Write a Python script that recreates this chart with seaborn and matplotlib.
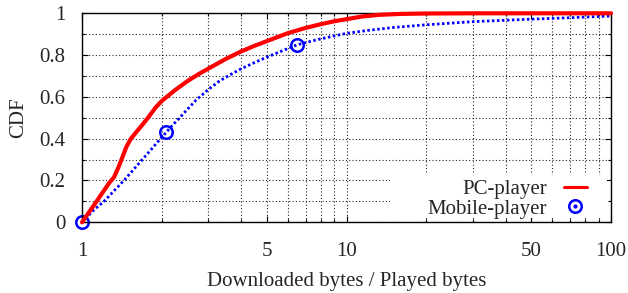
import numpy as np
import pandas as pd
import matplotlib
matplotlib.use("Agg")
import matplotlib.pyplot as plt
from matplotlib.lines import Line2D
from matplotlib.patches import Rectangle
from matplotlib.ticker import FixedLocator, NullFormatter
import seaborn as sns

# CDF of downloaded/played bytes ratio
pc_x = [1.0, 1.1, 1.2, 1.27, 1.32, 1.37, 1.42, 1.47, 1.53, 1.6, 1.7, 1.8, 1.9, 2.0, 2.25,
        2.5, 2.75, 3.0, 3.5, 4.0, 4.5, 5.0, 6.0, 7.0, 8.0, 9.0, 10.0, 11.5, 13.4, 16.0,
        20.0, 30.0, 100.0]
pc_y = [0.0, 0.075, 0.145, 0.19, 0.215, 0.26, 0.31, 0.36, 0.40, 0.43, 0.47, 0.51, 0.55, 0.58, 0.633,
        0.675, 0.708, 0.735, 0.782, 0.818, 0.845, 0.867, 0.905, 0.93, 0.948, 0.962, 0.972, 0.985, 0.993, 0.997,
        0.999, 1.0, 1.0]

mob_x = [1.0, 1.1, 1.21, 1.32, 1.44, 1.56, 1.69, 1.83, 1.98, 2.08, 2.2, 2.32, 2.5, 2.7, 3.0,
         3.3, 3.62, 4.0, 4.5, 5.0, 5.7, 6.47, 7.0, 8.0, 9.0, 10.0, 12.0, 15.0, 20.0, 30.0,
         50.0, 70.0, 100.0]
mob_y = [0.0, 0.055, 0.1, 0.15, 0.2, 0.25, 0.3, 0.35, 0.4, 0.43, 0.465, 0.495, 0.54, 0.585, 0.635,
         0.675, 0.705, 0.735, 0.765, 0.79, 0.82, 0.848, 0.86, 0.878, 0.892, 0.904, 0.918, 0.932, 0.945, 0.96,
         0.972, 0.979, 0.987]
mob_marks = [0, 9, 21]

x_major = [1, 5, 10, 50, 100]
x_minor = [2, 3, 4, 6, 7, 8, 9, 20, 30, 40, 60, 70, 80, 90]
y_major = [0, 0.2, 0.4, 0.6, 0.8, 1.0]
y_minor = [0.1, 0.3, 0.5, 0.7, 0.9]
y_labels = ['0', '0.2', '0.4', '0.6', '0.8', '1']

sns.set_style("ticks")
plt.rcParams['font.family'] = ['Liberation Serif', 'DejaVu Serif']

fig = plt.figure(figsize=(6.28, 2.93), dpi=100)
ax = fig.add_axes([0.1306, 0.2413, 0.8424, 0.7133])

sns.lineplot(x=pc_x, y=pc_y, ax=ax, color='#ff0000', lw=3.0, zorder=3,
             solid_joinstyle='round', solid_capstyle='round', clip_on=False)
sns.lineplot(x=mob_x, y=mob_y, ax=ax, color='#0000ff', lw=2.0, zorder=2,
             linestyle=(0, (0.9, 0.9)), marker='o', markevery=mob_marks,
             markersize=9, markerfacecolor='none', markeredgecolor='#0000ff',
             markeredgewidth=1.8, clip_on=False)

ax.set_xscale('log')
ax.set_xlim(1, 100)
ax.set_ylim(0, 1)
ax.xaxis.set_major_locator(FixedLocator(x_major))
ax.xaxis.set_minor_locator(FixedLocator(x_minor))
ax.xaxis.set_minor_formatter(NullFormatter())
ax.set_xticklabels([str(v) for v in x_major])
ax.yaxis.set_major_locator(FixedLocator(y_major))
ax.yaxis.set_minor_locator(FixedLocator(y_minor))
ax.set_yticklabels(y_labels)

ax.set_axisbelow(True)
ax.grid(which='both', color='black', linestyle=(0, (1, 2)), lw=0.8, alpha=0.85)
for s in ax.spines.values():
    s.set_visible(True)
    s.set_color('black')
    s.set_linewidth(1.0)
ax.tick_params(which='both', direction='in', top=True, right=True, labelsize=15,
               color='black')
ax.tick_params(axis='x', pad=14)
ax.tick_params(axis='y', pad=12)
ax.tick_params(which='major', length=4.5, width=0.8)
ax.tick_params(which='minor', length=2.5, width=0.8)

ax.set_xlabel('Downloaded bytes / Played bytes', fontsize=15, labelpad=8)
ax.set_ylabel('CDF', fontsize=15, labelpad=8)

# white area behind the key hides the grid like gnuplot's opaque key
ax.add_patch(Rectangle((0.582, 0.02), 0.418 - 0.008, 0.206, transform=ax.transAxes,
                       facecolor='white', edgecolor='none', zorder=1))

h_pc = Line2D([], [], color='#ff0000', lw=2.2)
h_mob = (Line2D([], [], color='#0000ff', marker='o', ls='none', markersize=9,
                markerfacecolor='none', markeredgewidth=1.8),
         Line2D([], [], color='#0000ff', marker='o', ls='none', markersize=2))
ax.legend([h_pc, h_mob], ['PC-player', 'Mobile-player'], loc='lower right',
          bbox_to_anchor=(0.974, -0.033), frameon=False, borderpad=0,
          markerfirst=False, handlelength=1.1, handletextpad=0.8,
          labelspacing=0.0, fontsize=15)

fig.savefig('out.png', dpi=100)
